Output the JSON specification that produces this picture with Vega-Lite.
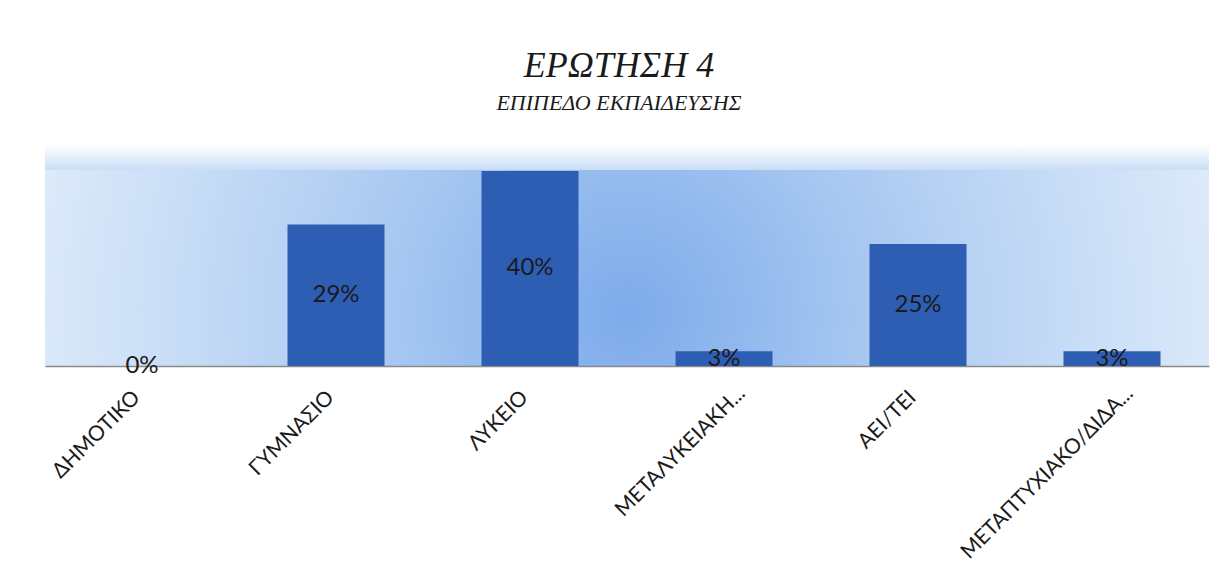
{
  "$schema": "https://vega.github.io/schema/vega-lite/v6.json",
  "autosize": "none",
  "width": 1164,
  "height": 221,
  "padding": {"left": 45, "top": 145, "right": 22, "bottom": 219},
  "background": "#ffffff",
  "title": {
    "text": "ΕΡΩΤΗΣΗ 4",
    "subtitle": "ΕΠΙΠΕΔΟ ΕΚΠΑΙΔΕΥΣΗΣ",
    "font": "Liberation Serif",
    "fontStyle": "italic",
    "fontWeight": "normal",
    "fontSize": 36,
    "color": "#1a1a1a",
    "subtitleFont": "Liberation Serif",
    "subtitleFontStyle": "italic",
    "subtitleFontSize": 22,
    "subtitleColor": "#1a1a1a",
    "subtitlePadding": 8,
    "anchor": "middle",
    "dx": -8,
    "offset": 30
  },
  "config": {
    "view": {
      "stroke": null,
      "fill": {
        "gradient": "radial",
        "x1": 0.5, "y1": 0.55, "r1": 0,
        "x2": 0.5, "y2": 0.55, "r2": 0.6,
        "stops": [
          {"offset": 0, "color": "#7dabeb"},
          {"offset": 0.35, "color": "#a8c8f1"},
          {"offset": 0.7, "color": "#cde0f7"},
          {"offset": 1, "color": "#eaf3fd"}
        ]
      }
    }
  },
  "data": {
    "values": [
      {"level": "ΔΗΜΟΤΙΚΟ", "value": 0.0},
      {"level": "ΓΥΜΝΑΣΙΟ", "value": 0.29},
      {"level": "ΛΥΚΕΙΟ", "value": 0.40},
      {"level": "ΜΕΤΑΛΥΚΕΙΑΚΗ...", "value": 0.03},
      {"level": "ΑΕΙ/ΤΕΙ", "value": 0.25},
      {"level": "ΜΕΤΑΠΤΥΧΙΑΚΟ/ΔΙΔΑ...", "value": 0.03}
    ]
  },
  "layer": [
    {
      "mark": {
        "type": "rect",
        "color": {
          "gradient": "linear",
          "x1": 0, "y1": 0, "x2": 0, "y2": 1,
          "stops": [
            {"offset": 0, "color": "#ffffff"},
            {"offset": 1, "color": "#cadef7"}
          ]
        }
      },
      "encoding": {
        "y": {"datum": 0.4533, "type": "quantitative", "scale": {"domain": [0, 0.4533]}, "axis": null},
        "y2": {"datum": 0.403}
      }
    },
    {
      "mark": {"type": "bar", "color": "#2e5eb4"},
      "encoding": {
        "x": {
          "field": "level",
          "type": "nominal",
          "sort": null,
          "scale": {"paddingInner": 0.5, "paddingOuter": 0.25},
          "axis": {
            "title": null,
            "labelAngle": -45,
            "labelAlign": "right",
            "labelBaseline": "middle",
            "labelFont": "Lato",
            "labelFontSize": 21,
            "labelColor": "#1a1a1a",
            "labelPadding": {"condition": {"test": "length(datum.label) > 10", "value": 24}, "value": 28},
            "labelOffset": {"condition": {"test": "length(datum.label) > 10", "value": 18}, "value": -5},
            "labelLimit": 400,
            "labelOverlap": false,
            "ticks": false,
            "domainColor": "#8a8a8a",
            "domainWidth": 1.5,
            "grid": false
          }
        },
        "y": {
          "field": "value",
          "type": "quantitative",
          "scale": {"domain": [0, 0.4533]},
          "axis": null
        }
      }
    },
    {
      "mark": {"type": "text", "font": "Lato", "fontSize": 24, "color": "#1a1a1a", "baseline": "middle"},
      "encoding": {
        "x": {"field": "level", "type": "nominal", "sort": null},
        "y": {
          "field": "value",
          "type": "quantitative",
          "scale": {"domain": [0, 0.9066]},
          "axis": null
        },
        "text": {"field": "value", "type": "quantitative", "format": ".0%"}
      }
    }
  ],
  "resolve": {"scale": {"y": "independent"}}
}
